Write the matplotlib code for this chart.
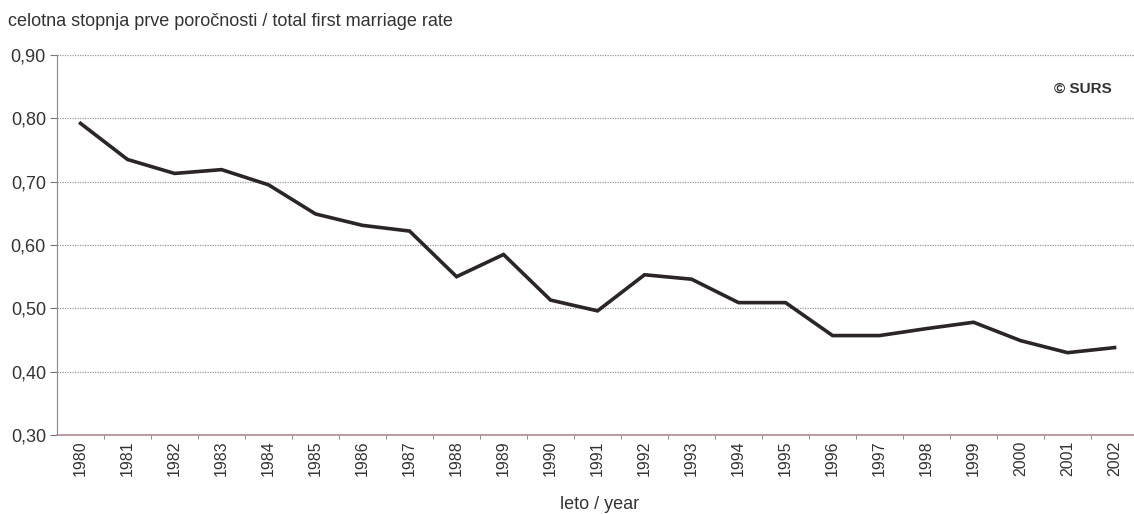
import matplotlib
matplotlib.use("Agg")
import matplotlib.pyplot as plt
import matplotlib.ticker as mticker

plt.rcParams['font.family'] = ['Liberation Sans', 'DejaVu Sans']

years = [str(y) for y in range(1980, 2003)]
rate = [0.792, 0.735, 0.713, 0.719, 0.695, 0.649, 0.631, 0.622, 0.550, 0.585,
        0.513, 0.496, 0.553, 0.546, 0.509, 0.509, 0.457, 0.457, 0.468, 0.478,
        0.449, 0.430, 0.438]
y_ticks = [0.30, 0.40, 0.50, 0.60, 0.70, 0.80, 0.90]

fig = plt.figure(figsize=(11.34, 5.14), dpi=100, facecolor="white")
# axis from x=57 px, one category = 47 px, last one slightly past the edge
ax = fig.add_axes([0.0503, 0.1537, 0.9533, 0.7393])

x = list(range(len(years)))
ax.plot(x, rate, color="#2b2528", linewidth=2.6, solid_joinstyle="miter", zorder=3)

ax.set_xlim(-0.5, 22.5)
ax.set_ylim(0.30, 0.90)
ax.set_yticks(y_ticks)
ax.yaxis.set_major_formatter(mticker.FuncFormatter(lambda v, _: f"{v:.2f}".replace(".", ",")))
ax.set_xticks(x)
ax.set_xticklabels(years, rotation=90, fontsize=11.5, color="#333333")
ax.set_xticks([i + 0.5 for i in x[:-1]], minor=True)
ax.tick_params(axis="y", labelsize=13, color="#777777", length=5, labelcolor="#333333", pad=3)
ax.tick_params(axis="x", which="major", length=0, pad=4)
ax.tick_params(axis="x", which="minor", length=3, color="#777777")

ax.grid(axis="y", linestyle=(0, (1, 1)), color="#9a9a9a", linewidth=0.9, zorder=0)
for s in ["top", "right"]:
    ax.spines[s].set_visible(False)
ax.spines["left"].set_color("#888888")
ax.spines["bottom"].set_color("#b08a90")
ax.spines["bottom"].set_linewidth(1.2)

fig.text(0.007, 0.958, "celotna stopnja prve poročnosti / total first marriage rate",
         fontsize=13, color="#333333", ha="left", va="center")
ax.text(0.976, 0.91, "© SURS", transform=ax.transAxes, fontsize=11,
        fontweight="bold", color="#333333", ha="right", va="center")
fig.text(0.529, 0.018, "leto / year", fontsize=13, color="#333333", ha="center", va="center")

fig.savefig("out.png", dpi=100, facecolor="white")
